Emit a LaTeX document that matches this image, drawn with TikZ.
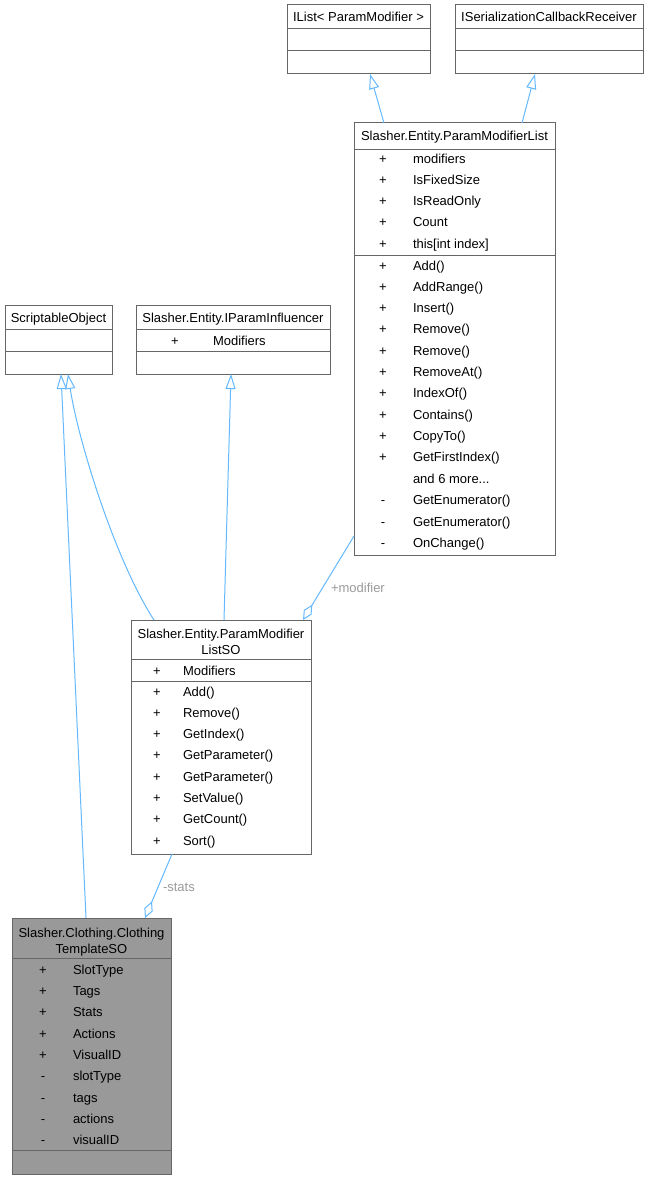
\documentclass[tikz,border=0pt]{standalone}
\usepackage{fontspec}
\setmainfont{Liberation Sans}
\usetikzlibrary{arrows.meta,calc}
\definecolor{boxgray}{HTML}{666666}
\definecolor{edgeblue}{HTML}{63B8FF}
\definecolor{labgray}{HTML}{9A9A9A}
\definecolor{clsfill}{HTML}{999999}
\newcommand\fs{\fontsize{13}{15}\selectfont}
\newcommand\mrow[6]{%
  \node[txt,anchor=base] (#1v) at (#2,#4) {#5};
  \node[txt,anchor=base west] (#1) at (#3,#4) {#6};}
\tikzset{
  cls/.style={draw=boxgray, fill=white, line width=1pt, inner sep=0pt, outer sep=0pt, rectangle},
  divl/.style={draw=boxgray, line width=1pt},
  txt/.style={inner sep=0pt, outer sep=0pt, font=\fs},
  edge/.style={draw=edgeblue, line width=1pt},
  inh/.style={edge, -{Triangle[open, length=15pt, width=10pt, fill=white]}},
  agg/.style={edge, -{Diamond[open, length=18pt, width=9pt, fill=white]}},
  lab/.style={txt, text=labgray},
}
\begin{document}
\begin{tikzpicture}[x=1pt,y=-1pt]
\useasboundingbox (0,0) rectangle (649,1180);
% boxes
\node[cls, minimum width=143pt, minimum height=69pt] (ilist) at (358.5,39.5) {};
\node[cls, minimum width=188pt, minimum height=69pt] (iser) at (549,39.5) {};
\node[cls, minimum width=201pt, minimum height=432pt] (plist) at (454.5,339) {};
\node[cls, minimum width=107pt, minimum height=69pt] (sobj) at (58.5,339.5) {};
\node[cls, minimum width=194pt, minimum height=69pt] (ipi) at (233,339.5) {};
\node[cls, minimum width=180pt, minimum height=234pt] (pmlso) at (221,737) {};
\node[cls, fill=clsfill, minimum width=159pt, minimum height=256pt] (cts) at (91.5,1046) {};
% dividers
\draw[divl] (287,29) -- (430,29);
\draw[divl] (287,51) -- (430,51);
\draw[divl] (455,29) -- (643,29);
\draw[divl] (455,51) -- (643,51);
\draw[divl] (354,149) -- (555,149);
\draw[divl] (354,255) -- (555,255);
\draw[divl] (5,329) -- (112,329);
\draw[divl] (5,351) -- (112,351);
\draw[divl] (136,329) -- (330,329);
\draw[divl] (136,351) -- (330,351);
\draw[divl] (131,659) -- (311,659);
\draw[divl] (131,681) -- (311,681);
\draw[divl] (12,958) -- (171,958);
\draw[divl] (12,1150) -- (171,1150);
% headers
\node[txt,anchor=base] (ilisth) at (358.5,22) {IList< ParamModifier >};
\node[txt,anchor=base] (iserh) at (549,22) {ISerializationCallbackReceiver};
\node[txt,anchor=base] (plisth) at (454.5,141) {Slasher.Entity.ParamModifierList};
\node[txt,anchor=base] (sobjh) at (58.5,322) {ScriptableObject};
\node[txt,anchor=base] (ipih) at (233,322) {Slasher.Entity.IParamInfluencer};
\node[txt,anchor=base] (pmlsoh1) at (221,638) {Slasher.Entity.ParamModifier};
\node[txt,anchor=base] (pmlsoh2) at (221,654) {ListSO};
\node[txt,anchor=base] (ctsh1) at (91.5,937) {Slasher.Clothing.Clothing};
\node[txt,anchor=base] (ctsh2) at (91.5,953) {TemplateSO};
% rows
\foreach \t [count=\i from 0] in {modifiers, IsFixedSize, IsReadOnly, Count, {this[int index]}}
  {\mrow{pla\i}{383}{413}{163+\i*21.33}{+}{\t}}
\foreach \t [count=\i from 0] in {Add(), AddRange(), Insert(), Remove(), Remove(), RemoveAt(), IndexOf(), Contains(), CopyTo(), GetFirstIndex()}
  {\mrow{plm\i}{383}{413}{270+\i*21.33}{+}{\t}}
\node[txt,anchor=base west] (plmore) at (413,483.3) {and 6 more...};
\foreach \t [count=\i from 0] in {GetEnumerator(), GetEnumerator(), OnChange()}
  {\mrow{plp\i}{383}{413}{504.7+\i*21.33}{-}{\t}}
\mrow{ipia}{175}{213}{345}{+}{Modifiers}
\mrow{pmla}{157}{183}{675}{+}{Modifiers}
\foreach \t [count=\i from 0] in {Add(), Remove(), GetIndex(), GetParameter(), GetParameter(), SetValue(), GetCount(), Sort()}
  {\mrow{pmlm\i}{157}{183}{696+\i*21.33}{+}{\t}}
\foreach \t [count=\i from 0] in {SlotType, Tags, Stats, Actions, VisualID}
  {\mrow{ctsa\i}{43}{73}{974+\i*21.33}{+}{\t}}
\foreach \t [count=\i from 0] in {slotType, tags, actions, visualID}
  {\mrow{ctsp\i}{43}{73}{1080.7+\i*21.33}{-}{\t}}
% edges
\draw[inh] ($(plist.north west)+(30,0)$) -- ($(ilist.south west)+(83,0)$);
\draw[inh] ($(plist.north west)+(168,0)$) -- ($(iser.south west)+(80,0)$);
\draw[inh] ($(cts.north west)+(74,0)$) -- ($(sobj.south west)+(56,0)$);
\draw[inh] ($(pmlso.north west)+(23,0)$) .. controls (115,560) and (78,440) .. ($(sobj.south west)+(63,0)$);
\draw[inh] ($(pmlso.north west)+(93,0)$) -- ($(ipi.south west)+(95,0)$);
\draw[agg] ($(plist.south west)+(0,-19)$) -- ($(pmlso.north west)+(172,0)$);
\draw[agg] ($(pmlso.south west)+(41,0)$) -- ($(cts.north west)+(133,0)$);
% labels
\node[lab,anchor=west] (lmod) at (331,588) {+modifier};
\node[lab,anchor=west] (lstats) at (163,887) {-stats};
\end{tikzpicture}
\end{document}
